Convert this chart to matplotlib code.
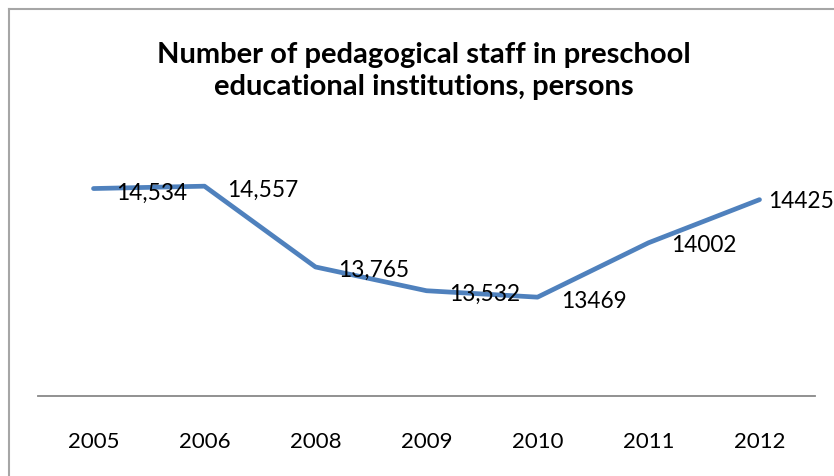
import matplotlib
matplotlib.use("Agg")
import matplotlib.pyplot as plt
from matplotlib.lines import Line2D

years = ["2005", "2006", "2008", "2009", "2010", "2011", "2012"]
values = [14534, 14557, 13765, 13532, 13469, 14002, 14425]
labels = ["14,534", "14,557", "13,765", "13,532", "13469", "14002", "14425"]
title = "Number of pedagogical staff in preschool\neducational institutions, persons"

plt.rcParams['font.family'] = ['Lato', 'DejaVu Sans']

fig = plt.figure(figsize=(8.34, 4.76), dpi=100)
W, H = 834, 476
ax = fig.add_axes([38 / W, (H - 396) / H, (815 - 38) / W, (396 - 141) / H])

x = list(range(len(years)))
ax.plot(x, values, color="#4F81BD", linewidth=3.4, solid_joinstyle="round", solid_capstyle="round")
ax.set_xlim(-0.5, len(years) - 0.5)
ax.set_ylim(12500, 15000)
ax.set_xticks(x)
ax.set_xticklabels(years, fontsize=16, color="#000000")
ax.tick_params(axis="x", length=0, pad=26)
ax.set_yticks([])
for s in ["top", "right", "left"]:
    ax.spines[s].set_visible(False)
ax.spines["bottom"].set_color("#888888")
ax.spines["bottom"].set_linewidth(1.3)

offsets = [(23, -5), (23, -4), (23, -3), (23, -4), (24, -4), (23, -3), (9, -2)]
for xi, v, lab, (dx, dy) in zip(x, values, labels, offsets):
    ax.annotate(lab, (xi, v), xytext=(dx, dy), textcoords="offset pixels",
                ha="left", va="center", fontsize=16.3, color="#000000")

fig.text(424 / W, 1 - 71 / H, title, ha="center", va="center", fontsize=21,
         fontweight="bold", linespacing=1.28)

# chart border (left and top edges visible)
fig.add_artist(Line2D([9 / W, 9 / W], [0, 1 - 9 / H], transform=fig.transFigure, color="#A6A6A6", linewidth=1.5))
fig.add_artist(Line2D([9 / W, 1], [1 - 9 / H, 1 - 9 / H], transform=fig.transFigure, color="#A6A6A6", linewidth=1.5))

fig.savefig("out.png", dpi=100)
